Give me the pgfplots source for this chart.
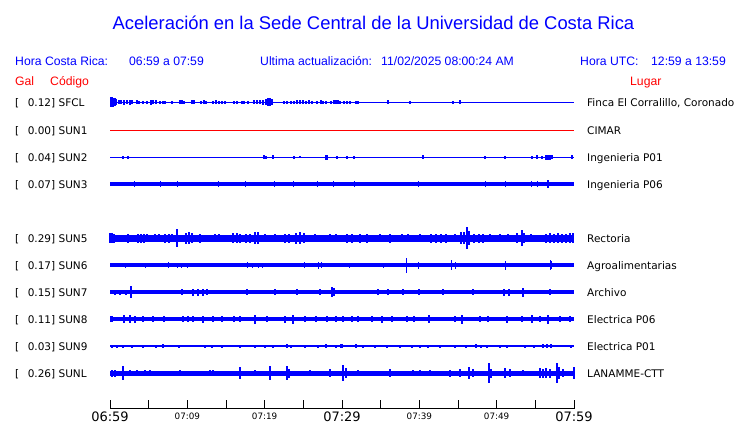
\documentclass[border=0pt]{standalone}
\usepackage{fontspec}
\setmainfont{Liberation Sans}
\newfontfamily\dvs{DejaVu Sans}
\usepackage{pgfplots}
\pgfplotsset{compat=1.18}
\definecolor{gb}{RGB}{0,0,255}
\definecolor{gr}{RGB}{255,0,0}
\newcommand{\tlb}[1]{{\dvs\fontsize{13}{13}\selectfont #1}}
\newcommand{\tls}[1]{{\dvs\fontsize{8.8}{9}\selectfont #1}}
\pgfplotsset{
  base/.style={gb, no marks, line width=#1},
  spk/.style={gb, no marks, draw=none, error bars/.cd, y dir=both, y explicit, error mark=none, error bar style={draw=gb, line width=#1, line cap=butt}},
}
\begin{document}
\begin{tikzpicture}[x=1pt,y=1pt]
\useasboundingbox (0,0) rectangle (740,-423);
% header texts
\node[anchor=base, text=gb, inner sep=0, font=\fontsize{18.4}{18.4}\selectfont] at (373.5,-29.3) {Aceleración en la Sede Central de la Universidad de Costa Rica};
\begin{scope}[every node/.style={anchor=base west, inner sep=0, font=\fontsize{12.2}{12.2}\selectfont}]
\node[text=gb] at (15,-65.7) {Hora Costa Rica:};
\node[text=gb] at (129,-65.7) {06:59 a 07:59};
\node[text=gb] at (260,-65.7) {Ultima actualización:};
\node[text=gb] at (381,-65.7) {11/02/2025 08:00:24 AM};
\node[text=gb] at (580,-65.7) {Hora UTC:};
\node[text=gb] at (651,-65.7) {12:59 a 13:59};
\node[text=gr] at (15,-85) {Gal};
\node[text=gr] at (50,-85) {Código};
\node[text=gr] at (630,-85) {Lugar};
\end{scope}
% station labels
\begin{scope}[every node/.style={anchor=base west, inner sep=0, font=\dvs\fontsize{10.5}{10.5}\selectfont}]
\foreach \r/\g/\c/\l in {102/0.12/SFCL/{Finca El Corralillo, Coronado},130/0.00/SUN1/CIMAR,157/0.04/SUN2/Ingenieria P01,184/0.07/SUN3/Ingenieria P06,238/0.29/SUN5/Rectoria,265/0.17/SUN6/Agroalimentarias,292/0.15/SUN7/Archivo,319/0.11/SUN8/Electrica P06,346/0.03/SUN9/Electrica P01,373/0.26/SUNL/LANAMME-CTT}{
  \node at (15,{-\r-4}) {[};
  \node at (27.6,{-\r-4}) {\g] \c};
  \node at (587,{-\r-4}) {\l};
}
\end{scope}
\begin{axis}[
  at={(110pt,-408.5pt)}, anchor=south west,
  scale only axis, width=464pt, height=318.5pt,
  xmin=0, xmax=60, ymin=-408.5, ymax=-90,
  clip=false, hide y axis, axis x line*=bottom,
  x axis line style={black, line width=0.9pt},
  xtick={0,5,...,60}, tick align=inside, major tick length=9pt,
  xtick style={black, line width=0.9pt},
  xticklabels={\tlb{06:59},{},\tls{07:09},{},\tls{07:19},{},\tlb{07:29},{},\tls{07:39},{},\tls{07:49},{},\tlb{07:59}},
  xticklabel style={anchor=center, yshift=-8pt, inner sep=0pt},
]
% SFCL
\addplot[base=1pt] coordinates {(0,-102) (60,-102)};
\addplot[spk=1.5pt] table[x=t, y expr=-102, y error=e] {
t e
0.06 5
0.26 5
0.45 4.5
0.65 4
0.84 3
1.16 2
1.42 2
1.81 2.5
2.20 2
2.59 2.5
2.84 2
3.49 2
3.75 1.5
4.27 1.5
4.78 1.5
5.30 2.5
5.56 2
5.95 2
6.47 1.5
6.85 1.5
7.11 1.5
8.02 1.5
9.05 2
9.31 2
9.57 1.5
10.60 2
10.86 2
11.77 1.5
12.16 2
12.41 1.5
13.32 1.5
13.71 2
14.09 1.5
14.48 1.5
14.87 1.5
16.03 1.5
16.42 1.5
17.07 1.5
17.33 1.5
17.84 1.5
18.62 2
19.01 2
19.40 2
19.78 2.5
20.17 3
20.43 4
20.69 4
20.95 3
22.50 1.5
22.89 1.5
23.41 1.5
23.79 1.5
24.18 2
24.57 2
24.96 2
25.34 1.5
25.73 2
26.12 1.5
26.77 1.5
27.28 2
27.54 1.5
27.93 1.5
28.58 1.5
28.97 2
29.22 2
29.48 2
29.74 1.5
30.26 1.5
30.65 1.5
31.03 1.5
31.81 1.5
32.07 1.5
35.95 2
38.79 1.5
44.35 1.5
45.26 2
};
% SUN1
\addplot[gr, no marks, line width=1pt] coordinates {(0,-130) (60,-130)};
% SUN2
\addplot[base=1pt] coordinates {(0,-157) (60,-157)};
\addplot[spk=1.5pt] table[x=t, y expr=-157, y error=e] {
t e
1.68 1.5
2.33 1.5
19.91 2
20.17 1.5
21.08 2
23.79 1.5
24.57 1
27.93 2.5
28.06 2.5
29.35 1.5
30.65 1.5
31.55 1.5
40.47 2
48.49 1.5
51.08 1.5
54.57 1.5
55.22 2
55.86 1.5
56.38 2.5
56.64 2.5
56.90 2.5
57.15 2
59.74 2
};
% SUN3
\addplot[base=4pt] coordinates {(0,-184) (60,-184)};
\addplot[spk=1pt] table[x=t, y expr=-184, y error=e] {
t e
3.23 3
6.47 3
8.79 3
14.09 3
17.46 3
21.21 3
23.79 3
26.77 3
28.84 3
31.68 3
39.83 3
48.62 3
51.08 3
54.44 3
55.22 3
56.51 4
56.64 4
};
% SUN5
\addplot[base=7pt] coordinates {(0,-238) (60,-238)};
\addplot[spk=1.3pt] table[x=t, y expr=-238, y error=e] {
t e
0.0 5
0.26 5
0.52 4.5
2.33 4.5
3.62 4.5
4.01 4.5
4.40 4.5
4.78 4
5.82 4
6.34 4
7.11 4.5
7.63 4.5
8.02 4
8.66 9
9.83 5.5
10.22 6
10.60 5
11.64 4.5
13.58 4
14.09 4
15.90 5
16.42 5
16.81 4.5
17.59 4.5
18.10 4.5
18.75 6
19.14 6
20.04 4
21.34 4
22.63 4.5
23.15 4.5
24.05 5.5
24.57 6
25.09 5
26.51 4
28.45 4
29.22 4
30.65 4.5
31.29 4.5
32.33 4.5
33.23 4.5
34.91 4
36.21 4.5
37.76 4
38.53 4
40.09 4
41.51 4.5
42.16 4.5
42.80 4.5
43.45 4.5
44.61 4
45.39 6
45.77 6
46.16 11
46.42 7
47.07 4.5
47.71 4.5
48.23 4.5
49.14 4
50.43 4
51.46 4
52.63 5
53.28 8
53.54 5
54.44 4
56.38 4.5
56.90 5
57.41 4.5
57.93 5
58.45 4.5
58.97 4.5
59.48 5
59.87 5
};
% SUN6
\addplot[base=3.2pt] coordinates {(0,-265) (60,-265)};
\addplot[spk=1pt] table[x=t, y expr=-265, y error=e] {
t e
1.94 2.5
4.53 2.5
7.50 3
8.79 2.5
9.31 2.5
9.96 2.5
17.84 3
18.49 2.5
19.14 2.5
19.78 2.5
25.09 3
26.90 3.5
27.41 3
31.03 2.5
35.43 2.5
38.40 7.5
39.83 3.5
44.22 5
44.74 3.5
51.08 4.5
56.90 5
57.15 4
};
% SUN7
\addplot[base=4pt] coordinates {(0,-292) (60,-292)};
\addplot[spk=1.2pt] table[x=t, y expr=-292, y error=e] {
t e
0.65 2.5
1.29 2.5
2.07 2.5
2.72 6
9.31 3
10.73 3.5
11.38 3.5
12.03 3.5
12.54 3
17.72 3
21.34 3
24.18 3
27.15 3
28.71 5
28.97 4
34.65 3
35.95 3
37.89 3
39.96 3
43.06 3
46.94 3
50.95 3.5
51.59 3.5
53.40 4.5
56.90 3
};
% SUN8
\addplot[base=4.5pt] coordinates {(0,-319) (60,-319)};
\addplot[spk=1.3pt] table[x=t, y expr=-319, y error=e] {
t e
0.13 3
0.26 3
1.81 4
2.59 4
3.23 3.5
4.27 3
5.56 3
6.98 3
9.44 3
10.09 3
10.73 3
12.03 3.5
13.32 3
14.48 3
16.03 3
16.81 3
18.75 4.5
20.30 3
22.63 3.5
23.66 4.5
25.22 3
26.64 3
28.06 3
29.22 3
30.13 3
31.29 3
32.07 3
33.88 3
35.17 3.5
36.46 3
38.40 3
39.31 3
41.25 4
44.61 3
45.52 4.5
47.84 3
48.88 3
51.34 3.5
53.28 3
54.57 4
55.60 3
56.64 4.5
58.19 3
59.48 3
};
% SUN9
\addplot[base=1.2pt] coordinates {(0,-346) (60,-346)};
\addplot[spk=1.6pt] table[x=t, y expr=-346, y error=e] {
t e
0.26 1.5
0.91 1.5
1.68 1.5
2.84 1.5
4.27 1.5
5.95 1.5
6.85 2
8.92 1.5
12.28 1.5
13.19 1.5
14.48 1.5
16.81 1.5
18.75 1.5
20.04 1.5
21.08 1.5
22.89 2
23.41 1.5
25.22 1.5
26.90 1.5
27.93 2
29.22 1.5
29.87 2
30.01 2
31.81 2
32.72 1.5
34.27 1.5
35.82 1.5
37.50 1.5
39.05 1.5
40.09 1.5
41.12 1.5
42.67 1.5
44.61 1.5
46.03 1.5
47.32 2
47.97 1.5
48.75 1.5
50.43 1.5
51.34 1.5
53.66 1.5
54.83 1.5
55.99 2
56.51 2
57.02 2
59.61 1.5
};
% SUNL
\addplot[base=5pt] coordinates {(0,-373) (60,-373)};
\addplot[spk=1.3pt] table[x=t, y expr=-373, y error=e] {
t e
0.26 3.5
0.65 3.5
1.68 7
2.59 3
3.49 3
4.53 3
5.17 3
9.05 3
12.93 3
13.32 3
16.81 6
18.75 3
20.69 7
22.89 7
23.15 4.5
25.86 3
28.45 4
30.13 8
30.52 5
32.07 3
36.21 4
39.18 3
40.09 3
41.38 3
43.97 3.5
45.26 4
46.42 6
46.94 4
49.01 10
49.27 4.5
51.08 5
51.72 4
53.40 3
55.60 5
55.99 4.5
56.38 5
56.90 4.5
57.80 10
58.06 6
58.58 4
60.00 6
};
\end{axis}
\end{tikzpicture}
\end{document}
